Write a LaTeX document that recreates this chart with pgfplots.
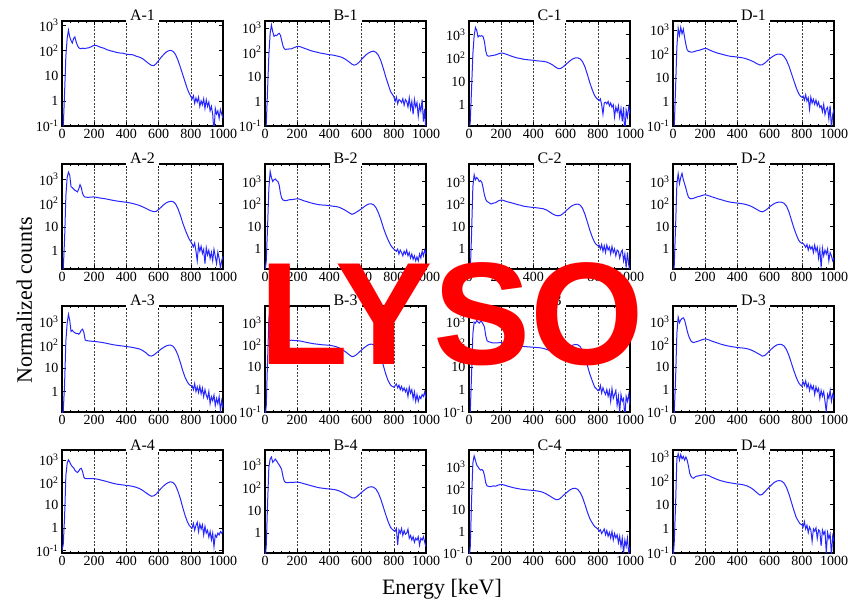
\documentclass[border=0pt]{standalone}
\usepackage{pgfplots}
\usepackage{pgfplotstable}
\pgfplotsset{compat=1.18}
\usepackage{fontspec}
\setmainfont{Liberation Serif}
\newfontfamily\lysofont{Liberation Sans}
\definecolor{specblue}{rgb}{0.15,0.15,1}

\pgfplotstableread{
E a1 b1 c1 d1 a2 b2 c2 d2 a3 b3 c3 d3 a4 b4 c4 d4
0 0.05 0.05 0.05 0.05 0.1 0.1 0.05 0.05 0.1 0.05 0.05 0.05 0.1 0.05 0.05 0.05
8 0.1 0.12 0.2 0.1 0.2 0.3 0.1 0.2 0.15 0.2 0.1 0.1 0.2 0.3 0.2 0.3
16 2 3 5 4 3 10 5 10 2 20 5 3 3 20 30 10
24 60 80 150 200 200 500 600 800 150 1500 300 300 200 800 1500 800
32 300 600 900 1200 1200 2800 2000 2200 900 5000 1000 1600 700 1800 3200 1300
40 650 1300 2000 600 2000 1500 1200 800 2200 2000 900 900 1000 2200 2000 700
48 350 700 1500 1300 1500 1000 1500 1500 1200 1800 1200 1200 800 1300 1200 1200
56 250 450 800 700 500 1200 1300 2300 400 1500 1000 1400 600 1500 1000 800
64 200 500 900 1100 450 1300 1000 1200 450 1600 900 1500 500 1800 800 1000
72 300 480 850 500 400 1100 1100 800 380 1300 1100 1200 450 1500 700 700
80 350 550 900 250 350 1000 900 500 350 1200 1000 700 350 1200 750 950
88 220 600 800 150 330 700 500 300 320 900 800 400 300 1000 650 700
96 160 500 500 130 300 300 250 200 330 500 600 250 280 800 400 400
104 130 300 200 125 400 180 160 180 300 250 250 180 320 600 180 200
112 120 180 130 120 600 150 130 170 350 180 150 140 400 300 130 150
120 120 140 120 120 450 145 120 175 450 160 135 125 420 190 125 130
128 125 130 120 125 250 140 110 180 500 150 130 120 300 170 120 125
136 120 135 125 130 200 145 100 190 350 150 125 125 170 165 120 140
144 122 135 125 135 180 150 105 200 170 155 120 130 150 165 125 150
152 125 140 130 140 180 155 110 210 160 160 118 135 150 170 130 155
165 128 140 135 145 178 155 115 220 155 165 118 145 150 170 125 160
180 140 155 148 158 182 162 135 240 150 160 120 160 150 172 140 170
195 158 170 160 170 185 170 150 255 148 158 122 170 148 175 150 172
210 162 175 162 168 180 168 148 250 145 155 120 168 145 172 148 170
225 148 165 150 150 172 155 135 230 140 148 115 155 138 162 138 158
240 135 150 138 135 165 140 125 210 135 140 108 140 130 150 126 140
260 124 135 122 120 158 128 115 190 128 130 100 125 120 138 115 122
280 108 120 110 108 150 115 105 170 120 122 95 112 110 125 105 108
300 98 110 100 100 140 105 95 155 112 115 90 100 100 115 98 98
320 92 103 95 92 132 98 88 140 105 110 86 92 92 105 92 90
340 84 95 88 85 125 92 80 128 100 106 82 85 85 98 88 84
360 80 90 85 80 120 90 76 120 96 102 80 80 82 94 85 80
380 78 85 82 78 115 88 73 115 92 100 78 76 78 90 82 76
400 72 80 80 75 110 85 70 110 88 98 76 72 75 88 80 72
420 69 78 76 72 105 80 68 105 85 92 74 70 72 84 76 70
440 68 73 74 68 98 78 65 100 80 85 72 68 68 80 72 66
460 60 68 72 62 90 72 62 92 75 75 68 64 62 72 65 60
480 55 62 68 55 82 62 55 82 70 62 62 58 55 62 55 52
500 48 52 60 48 72 52 45 70 60 50 55 50 46 52 45 42
520 38 42 50 40 62 42 36 58 48 38 48 42 36 43 36 32
540 30 33 40 35 53 35 31 48 36 30 42 35 29 36 30 25
555 26 30 35 36 48 38 30 45 34 32 40 30 25 35 30 27
570 25 33 36 42 45 45 32 50 38 38 42 32 26 40 36 34
585 30 40 42 52 46 52 38 60 46 48 50 40 31 50 46 44
600 40 52 52 64 55 62 48 75 56 60 60 52 42 62 58 56
615 53 66 64 76 68 75 60 90 68 75 72 65 55 76 72 70
630 68 82 78 88 85 90 75 105 80 90 85 80 70 92 88 85
645 85 96 92 98 102 100 88 118 92 105 95 94 86 105 98 96
660 97 108 100 100 115 102 96 122 100 110 100 100 100 110 100 100
675 102 112 102 96 122 92 100 120 102 104 98 98 108 104 90 95
690 93 100 92 80 118 68 90 108 90 85 82 84 100 85 65 78
705 70 75 70 55 95 40 65 80 65 55 55 58 75 56 38 52
720 42 45 42 32 60 20 35 45 38 28 28 32 42 30 18 28
735 22 22 20 16 32 9 16 20 18 12 12 15 20 14 8 13
750 11 10 9 8 15 4.5 7 9 8 5 5 7 8 6.5 4 6
765 5.5 5 4.5 4 8 2.5 3.5 4.5 4 2.5 2.5 3.5 3.5 3.2 2.5 3
780 2.8 2.5 2.5 2.3 4.5 1.5 2 2.5 2.5 1.6 1.3 2 1.8 1.8 1.7 2
790 2 2 2 1.8 3.2 1.2 1.6 2 2 1.4 1.1 1.6 1.3 1.5 1.5 1.6
800 1.5 1.6 1.7 1.6 2.5 1 1.4 1.8 1.8 1.3 0.9 1.4 1.1 1.3 1.3 1.5
808 1.2 1.0 1.5 1.8 2.0 0.9 1.5 1.8 1.8 1.5 0.9 2.2 1.0 1.2 1.0 1.2
816 1.6 1.5 1.8 1.2 1.5 0.8 1.0 1.5 1.2 1.8 1.5 1.5 1.6 1.6 1.2 2.0
824 0.8 0.8 1.0 2.0 2.2 1.0 1.6 1.2 2.2 1.2 0.7 2.4 0.8 0.3 0.8 1.0
832 1.3 1.2 0.4 1.1 1.0 0.6 0.8 1.6 1.0 1.6 1.2 1.2 1.3 1.4 1.0 1.4
840 0.9 1.1 1.2 1.5 0.4 0.9 1.4 0.9 1.6 1.0 0.8 1.8 1.8 1.0 1.3 0.7
848 1.4 0.9 1.3 0.5 1.8 0.7 0.7 1.4 0.9 1.4 0.6 0.9 0.7 1.6 0.7 1.2
856 0.6 1.3 1.1 1.6 1.0 0.5 1.5 1.0 1.7 0.9 1.0 1.6 1.5 0.8 1.1 0.9
864 1.0 0.7 1.4 0.9 1.6 0.8 0.9 1.3 0.8 1.2 0.5 1.0 0.9 1.3 0.6 0.3
872 0.7 1.2 0.9 1.3 0.8 0.6 1.2 0.7 1.4 0.8 0.9 1.4 1.4 0.9 0.9 1.0
880 1.2 1.0 1.2 0.8 1.2 0.9 0.6 1.5 0.6 1.1 0.3 0.6 0.5 1.0 0.5 0.8
888 0.5 0.6 0.8 1.2 0.3 0.5 1.3 0.8 1.2 0.5 1.1 1.3 1.2 1.5 1.0 1.1
896 1.1 1.4 1.0 0.7 1.4 0.7 0.7 1.2 0.7 1.3 0.4 0.8 0.6 0.6 0.4 0.4
904 0.6 0.5 0.3 1.0 0.7 0.4 1.0 0.4 0.5 0.7 0.6 1.1 0.8 0.8 0.8 0.9
912 0.9 1.0 0.8 0.6 1.1 0.6 0.5 1.0 1.0 1.0 0.9 0.4 0.4 0.5 0.5 0.8
920 0.4 0.3 0.5 0.7 0.5 0.35 0.9 0.15 0.3 0.4 0.2 0.9 0.7 0.7 0.7 0.2
928 0.6 1.2 0.9 0.4 0.9 0.5 0.8 1.1 0.6 0.8 0.5 0.5 0.3 0.4 0.3 0.9
936 0.3 0.6 0.3 0.8 0.4 0.3 0.4 0.5 0.4 0.3 0.1 0.8 0.6 0.6 0.6 0.6
944 0.05 0.9 0.7 0.3 1.2 0.45 0.7 0.9 0.7 0.6 0.6 0.3 0.15 0.5 0.2 0.8
952 0.5 0.25 0.2 0.5 0.6 0.3 0.9 0.6 0.25 0.3 0.3 0.1 0.5 0.7 0.5 0.1
960 0.3 0.7 0.8 0.6 0.3 0.6 0.3 1.0 0.5 0.5 0.4 0.6 0.4 0.3 0.1 0.7
968 0.4 0.4 0.05 0.2 0.9 0.4 0.6 0.3 0.3 0.4 0.05 0.4 0.6 0.6 0.4 0.4
976 0.2 1.2 0.6 0.7 0.5 0.8 0.15 0.7 0.6 0.6 0.5 0.9 0.5 0.5 0.2 0.6
984 0.45 0.15 0.3 0.08 0.2 0.5 0.7 0.5 0.15 0.5 0.3 0.3 0.7 0.7 0.5 0.08
992 0.3 0.5 0.8 0.3 0.4 0.9 0.2 0.3 0.4 0.8 0.6 0.6 0.6 0.4 0.1 0.5
1000 0.2 0.05 0.4 0.5 0.6 0.6 0.1 0.4 0.2 0.4 0.2 0.4 0.8 0.25 0.2 0.3
}\spectra

\newcommand{\ylab}{\pgfmathtruncatemacro{\ee}{round(\tick)}\ifnum\ee=0 1\else\ifnum\ee=1 10\else 10\textsuperscript{\ee}\fi\fi}

\newcommand{\panel}[7]{%
  \begin{axis}[
    scale only axis, width=161pt, height=#3pt, anchor=north west, at={(#1pt,#2pt)},
    ymode=log, log basis y=10, xmin=0, xmax=1000, ymin=#6, ymax=#7,
    xtick={0,200,400,600,800,1000}, minor x tick num=3,
    ytick={0.1,1,10,100,1000},
    yticklabel={\ylab},
    xmajorgrids,
    major grid style={black!75, dash pattern=on 2pt off 1.5pt, line width=0.5pt},
    tick align=inside, major tick length=4pt, minor tick length=2pt,
    axis line style={line width=1.1pt},
    every tick/.style={black, line width=0.6pt},
    tick label style={font=\fontsize{14}{14}\selectfont},
    xticklabel style={/pgf/number format/assume math mode=true, /pgf/number format/1000 sep={}},
    extra description/.code={\node[anchor=base, fill=white, inner xsep=4pt, inner ysep=2pt, font=\fontsize{16}{16}\selectfont] at (0.5,1) {#4};},
  ]
    \addplot[specblue, line width=1pt, mark=none] table[x=E, y=#5] {\spectra};
  \end{axis}}

\begin{document}
\begin{tikzpicture}
\useasboundingbox (0pt,0pt) rectangle (848pt,600pt);
\panel{62}{579}{105}{A-1}{a1}{0.1}{1500}
\panel{265}{579}{105}{B-1}{b1}{0.1}{1900}
\panel{469}{579}{105}{C-1}{c1}{0.125}{3800}
\panel{673}{579}{105}{D-1}{d1}{0.1}{2400}
\panel{62}{436}{105}{A-2}{a2}{0.18}{4400}
\panel{265}{436}{105}{B-2}{b2}{0.13}{6000}
\panel{469}{436}{105}{C-2}{c2}{0.13}{6000}
\panel{673}{436}{105}{D-2}{d2}{0.13}{6000}
\panel{62}{294}{106}{A-3}{a3}{0.13}{5000}
\panel{265}{294}{106}{B-3}{b3}{0.1}{5600}
\panel{469}{294}{106}{C-3}{c3}{0.1}{5200}
\panel{673}{294}{106}{D-3}{d3}{0.1}{5000}
\panel{62}{150}{103}{A-4}{a4}{0.08}{2700}
\panel{265}{150}{103}{B-4}{b4}{0.135}{4500}
\panel{469}{150}{103}{C-4}{c4}{0.1}{6000}
\panel{673}{150}{103}{D-4}{d4}{0.1}{1850}
\node[rotate=90, anchor=base, font=\fontsize{22}{22}\selectfont] at (32pt,300pt) {Normalized counts};
\node[anchor=base, font=\fontsize{22}{22}\selectfont] at (442pt,6pt) {Energy [keV]};
\node[anchor=base, inner sep=0pt, text=red, font=\lysofont\bfseries\fontsize{146}{146}\selectfont] at (452pt,235pt) {LYSO};
\end{tikzpicture}
\end{document}
